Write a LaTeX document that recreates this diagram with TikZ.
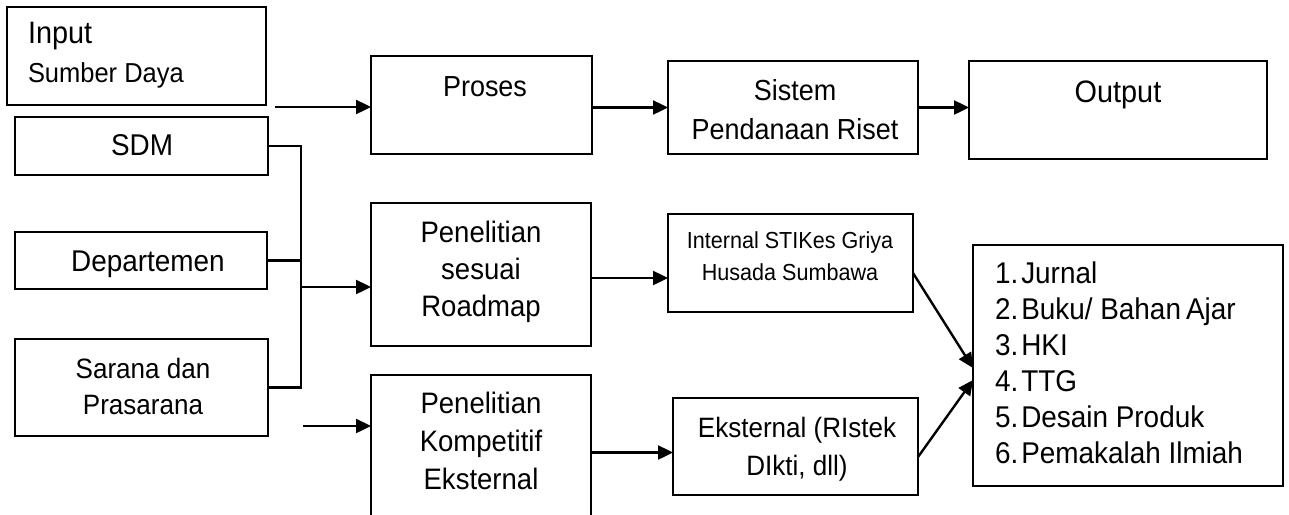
\documentclass[tikz,border=0pt]{standalone}
\usepackage{fontspec}
\setmainfont[FakeStretch=0.93]{Liberation Sans}
\usetikzlibrary{arrows.meta,calc}
\newcommand\fsz[2]{\fontsize{#1}{#2}\selectfont}
\newcommand\ctab[1]{\begin{tabular}[t]{@{}c@{}}#1\end{tabular}}
\begin{document}
\begin{tikzpicture}[x=1pt,y=-1pt,
  box/.style={draw,line width=2pt,inner sep=0pt,outer sep=0pt},
  txt/.style={inner sep=0pt,outer sep=0pt,anchor=base},
  ln/.style={line width=2.4pt},
  arr/.style={line width=2.4pt,-{Triangle[length=15pt,width=14pt]}}]
\useasboundingbox (0,0) rectangle (1289,514);
% boxes
\node[box,minimum width=259,minimum height=98] (inp) at (136.5,56) {};
\node[box,minimum width=253,minimum height=58] (sdm) at (141.5,146) {};
\node[box,minimum width=252,minimum height=57] (dep) at (141,260.5) {};
\node[box,minimum width=253,minimum height=97] (sar) at (141.5,387.5) {};
\node[box,minimum width=221,minimum height=98] (pro) at (481.5,105) {};
\node[box,minimum width=250,minimum height=93] (sis) at (793,107.5) {};
\node[box,minimum width=298,minimum height=98] (out) at (1118,110) {};
\node[box,minimum width=220,minimum height=143] (pen1) at (481,274.5) {};
\node[box,minimum width=220,minimum height=155] (pen2) at (481,452.5) {};
\node[box,minimum width=245,minimum height=98] (intl) at (790.5,263) {};
\node[box,minimum width=245,minimum height=97] (ekst) at (795.5,446.5) {};
\node[box,minimum width=310,minimum height=241] (lst) at (1128,365.5) {};
% texts
\node[txt,anchor=base west] (t-inp) at (28,43) {\fsz{31}{39}\begin{tabular}[t]{@{}l@{}}Input\\\fsz{27.4}{39}Sumber Daya\end{tabular}};
\node[txt,font=\fsz{30}{34}] (t-sdm) at (142,155) {SDM};
\node[txt,font=\fsz{30}{34}] (t-dep) at (148,271) {Departemen};
\node[txt,font=\fsz{28}{36}] (t-sar) at (143,378) {\ctab{Sarana dan\\Prasarana}};
\node[txt,font=\fsz{29}{34}] (t-pro) at (485,96) {Proses};
\node[txt,font=\fsz{29}{39}] (t-sis) at (795,100) {\ctab{Sistem\\Pendanaan Riset}};
\node[txt,font=\fsz{31}{34}] (t-out) at (1118,102) {Output};
\node[txt,font=\fsz{29.6}{37}] (t-pen1) at (481,242) {\ctab{Penelitian\\sesuai\\Roadmap}};
\node[txt,font=\fsz{29.6}{38}] (t-pen2) at (481,413) {\ctab{Penelitian\\Kompetitif\\Eksternal}};
\node[txt,font=\fsz{23.2}{32}] (t-intl) at (790,248) {\ctab{Internal STIKes Griya\\Husada Sumbawa}};
\node[txt,font=\fsz{28}{38}] (t-ekst) at (797,437) {\ctab{Eksternal (RIstek\\DIkti, dll)}};
\node[txt,anchor=base west,font=\fsz{30}{36}] (t-lst) at (995,283) {%
  \begin{tabular}[t]{@{}l@{\hspace{3pt}}l@{}}
  1. & Jurnal\\
  2. & Buku/ Bahan\,Ajar\\
  3. & HKI\\
  4. & TTG\\
  5. & Desain Produk\\
  6. & Pemakalah Ilmiah
  \end{tabular}};
% connectors
\coordinate (a1) at (275,107);
\draw[arr] (a1) -- (a1 -| pro.west);
\draw[arr] (pro.east |- sis.west) -- (sis.west);
\draw[arr] (sis.east) -- (sis.east -| out.west);
\coordinate (busTop) at (301,146);
\draw[ln] (sdm.east) -- (busTop) -- (busTop |- sar.east) -- (sar.east);
\draw[ln] (dep.east) -- (dep.east -| busTop);
\coordinate (b2) at (301,287);
\draw[arr] (b2) -- (b2 -| pen1.west);
\coordinate (b3) at (303,426);
\draw[arr] (b3) -- (b3 -| pen2.west);
\draw[arr] ($(pen1.east)+(0,3.5)$) -- ($(pen1.east -| intl.west)+(0,3.5)$);
\draw[arr] (pen2.east) -- (pen2.east -| ekst.west);
\draw[arr] ($(intl.east)+(0,10)$) -- ($(lst.west)+(0,2.5)$);
\draw[arr] ($(ekst.east)+(0,10.5)$) -- ($(lst.west)+(0,14.5)$);
\end{tikzpicture}
\end{document}
